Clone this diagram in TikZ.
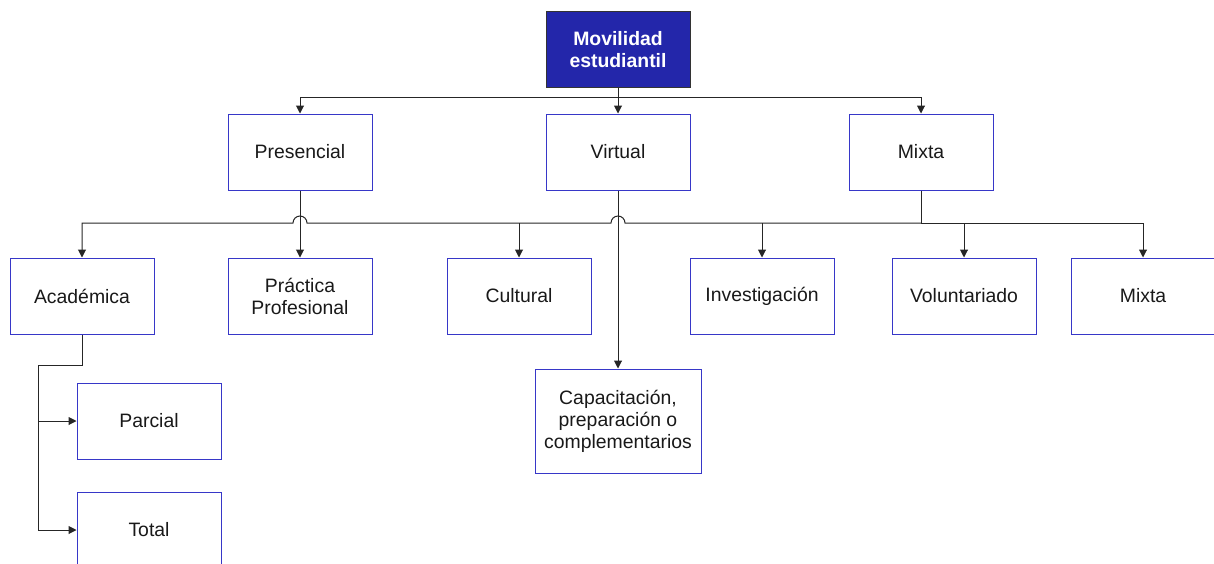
\documentclass[tikz,border=0pt]{standalone}
\usepackage{fontspec}
\setmainfont{Liberation Sans}
\usetikzlibrary{calc,arrows.meta}
\definecolor{headblue}{RGB}{35,38,170}
\definecolor{boxblue}{RGB}{55,55,200}
\tikzset{
	box/.style={draw=boxblue,line width=1pt,fill=white,minimum width=144,minimum height=76,align=center,text=black!90,font=\fontsize{19.4}{22}\selectfont},
	head/.style={box,draw=black!80,fill=headblue,text=white,font=\fontsize{19.4}{22}\selectfont\bfseries},
	link/.style={draw=black!85,line width=1pt,-{Triangle[length=8pt,width=8pt]}}
}
\begin{document}
\begin{tikzpicture}[x=1pt,y=-1pt]
					\useasboundingbox (0,0) rectangle (1214,563);
					%TOP
					\node[head] (mov) at (618,49.5) {Movilidad\\estudiantil};
					\node[box] (pres) at (300,152) {Presencial};
					\node[box] (virt) at (618,152) {Virtual};
					\node[box] (mixa) at (921,152) {Mixta};
					%SECOND ROW
					\node[box] (acad) at (82,296) {Académica};
					\node[box] (prac) at (300,296) {Práctica\\Profesional};
					\node[box] (cult) at (519,296) {Cultural};
					\node[box] (inv) at (762,296) {Investigación};
					\node[box] (vol) at (964,296) {Voluntariado};
					\node[box] (mixb) at (1143,296) {Mixta};
					\node[box,minimum width=166,minimum height=104] (cap) at (618,421) {Capacitación,\\preparación o\\complementarios};
					\node[box] (parc) at (149,421) {Parcial};
					\node[box] (tot) at (149,530) {Total};
					%CONNECTORS
					\coordinate (top) at (0,97);
					\coordinate (bar) at (0,223);
					\coordinate (trunk) at (38,365);
					\draw[link] (mov.south) -- (virt.north);
					\draw[link] (mov.south |- top) -| (pres.north);
					\draw[link] (mov.south |- top) -| (mixa.north);
					\draw[link] (pres.south) -- (prac.north);
					\draw[link] (virt.south) -- (cap.north);
					\draw[draw=black!85,line width=1pt] (mixa.south) -- (mixa.south |- bar);
					\draw[link] (mixa.south |- bar) -- ($(virt.south |- bar)+(7,0)$) arc (0:-180:7)
						-- ($(pres.south |- bar)+(7,0)$) arc (0:-180:7) -| (acad.north);
					\draw[link] (cult.north |- bar) -- (cult.north);
					\draw[link] (inv.north |- bar) -- (inv.north);
					\draw[link] (vol.north |- bar) -- (vol.north);
					\draw[link] (mixa.south |- bar) -| (mixb.north);
					\draw[link] (acad.south) |- (trunk) |- (tot.west);
					\draw[link] (trunk |- parc.west) -- (parc.west);
\end{tikzpicture}
\end{document}
